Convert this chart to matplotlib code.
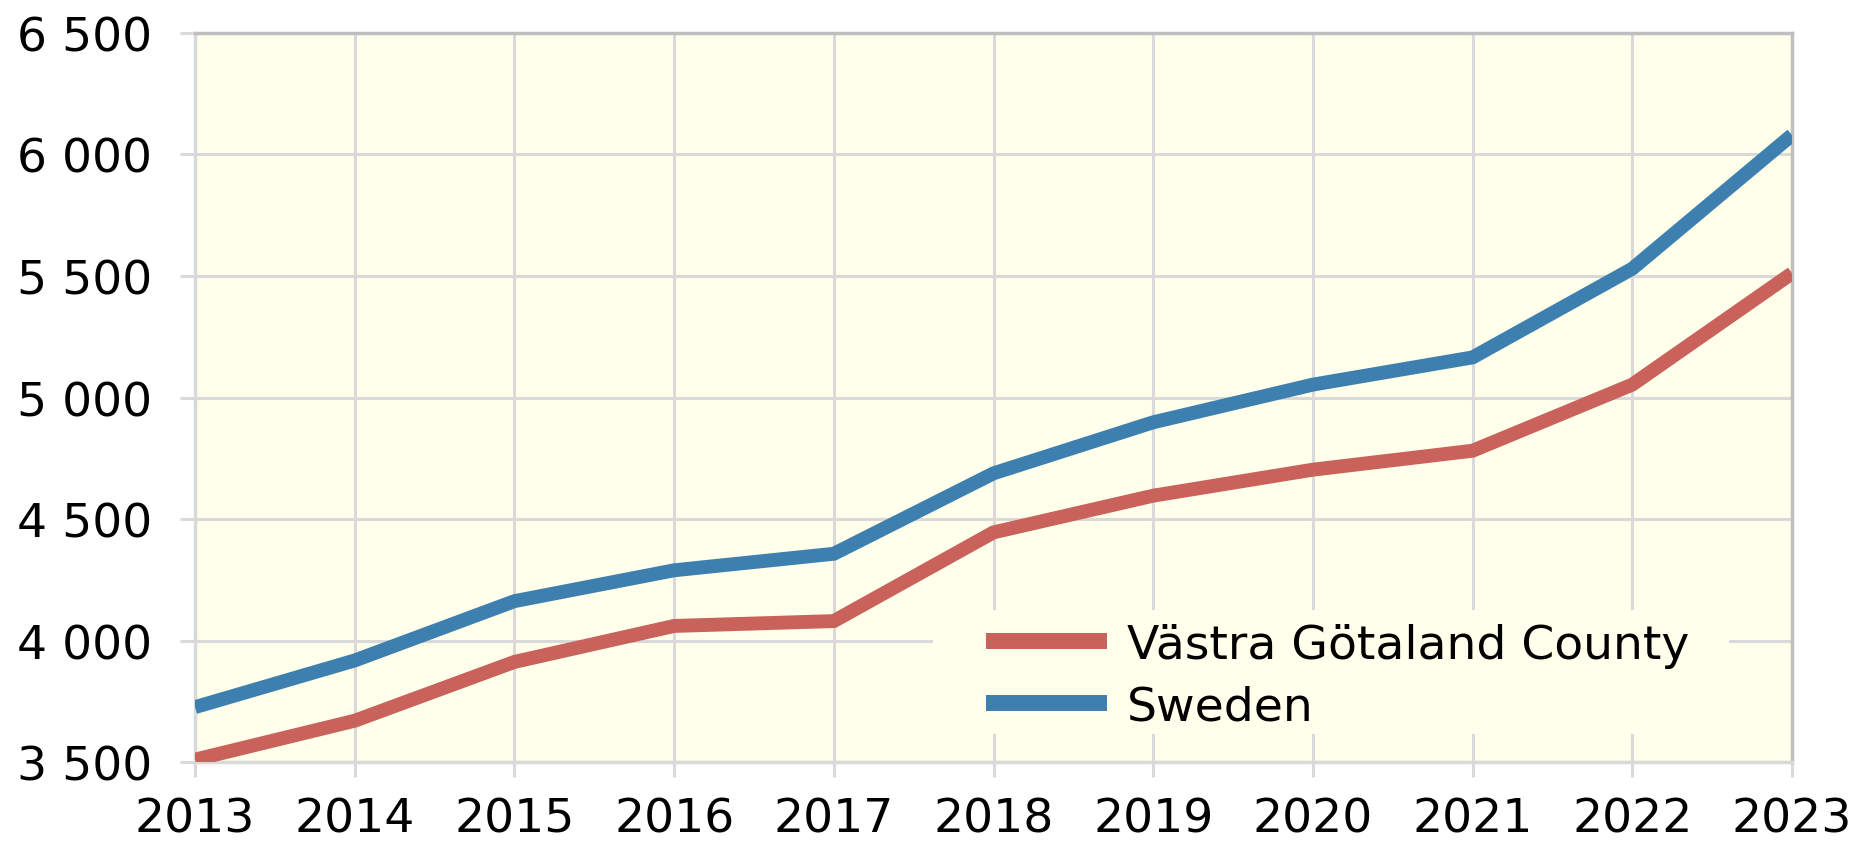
import matplotlib.pyplot as plt
from matplotlib.patches import Rectangle
from matplotlib.ticker import FuncFormatter

# --- Données ---
annees = [2013, 2014, 2015, 2016, 2017, 2018, 2019, 2020, 2021, 2022, 2023]
vastra_gotaland = [3510, 3670, 3912, 4060, 4080, 4445, 4596, 4703, 4781, 5053, 5511]
sverige = [3726, 3918, 4162, 4289, 4357, 4688, 4898, 5053, 5165, 5530, 6080]
etiquettes = ["Västra Götaland County", "Sweden"]

rouge = "#C9625B"
bleu = "#3D80B0"
fond = "#FFFFEB"
grille = "#D9D9D9"

plt.rcParams['font.family'] = ['DejaVu Sans']

fig = plt.figure(figsize=(18.56, 8.45), dpi=100)
ax = fig.add_axes([0.1051, 0.0970, 0.8604, 0.8628])
ax.set_facecolor(fond)

ax.plot(annees, vastra_gotaland, color=rouge, linewidth=10, solid_capstyle='butt',
        solid_joinstyle='miter', label=etiquettes[0], zorder=3)
ax.plot(annees, sverige, color=bleu, linewidth=10, solid_capstyle='butt',
        solid_joinstyle='miter', label=etiquettes[1], zorder=3)

ax.set_xlim(2013, 2023)
ax.set_ylim(3500, 6500)
ax.set_xticks(annees)
ax.set_yticks(range(3500, 6501, 500))
ax.yaxis.set_major_formatter(FuncFormatter(lambda v, p: f"{int(v):,}".replace(",", " ")))

ax.grid(True, color=grille, linewidth=2.2, zorder=0)
ax.set_axisbelow(True)
ax.tick_params(axis='both', length=11, width=2.2, color=grille, labelsize=34)
ax.tick_params(axis='y', pad=20)
ax.tick_params(axis='x', pad=14)

for cote in ['left', 'bottom']:
    ax.spines[cote].set_color(grille)
    ax.spines[cote].set_linewidth(2.5)
for cote in ['top', 'right']:
    ax.spines[cote].set_color("#BFBFBF")
    ax.spines[cote].set_linewidth(2.5)

# --- Fond de la légende (cache la grille) ---
ax.add_patch(Rectangle((0.4621, 0.0384), 0.4985, 0.1701, transform=ax.transAxes,
                       facecolor=fond, edgecolor='none', zorder=1))

leg = ax.legend(loc='center left', bbox_to_anchor=(0.4953, 0.118), fontsize=34,
                frameon=False, borderaxespad=0, borderpad=0,
                handlelength=2.56, handletextpad=0.42, labelspacing=0.34)
for ligne in leg.get_lines():
    ligne.set_linewidth(11.5)
leg.set_zorder(4)

plt.savefig("out.png", dpi=100)
